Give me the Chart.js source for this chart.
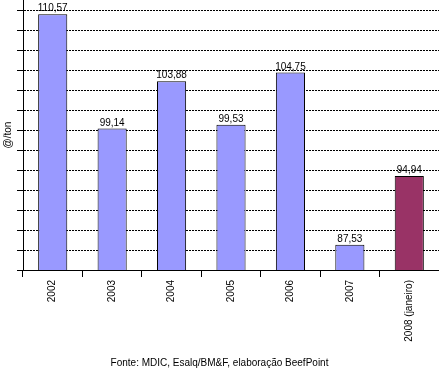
<!DOCTYPE html>
<html>
<head>
<meta charset="utf-8">
<script src="https://cdn.jsdelivr.net/npm/chart.js@4"></script>
<style>
  html, body { margin: 0; padding: 0; background: #fff; }
  #wrap { position: relative; width: 439px; height: 369px; }
</style>
</head>
<body>
<div id="wrap"><canvas id="c"></canvas></div>
<script>
  // Preço médio da exportação (@/ton)
  const categories = ['2002', '2003', '2004', '2005', '2006', '2007', '2008 (janeiro)'];
  // bar heights as drawn in the picture
  const values = [110.57, 99.14, 103.88, 99.53, 104.75, 87.53, 94.4];
  // value labels as printed above the bars
  const valueTexts = ['110,57', '99,14', '103,88', '99,53', '104,75', '87,53', '94,94'];
  const barColors = ['#9999ff', '#9999ff', '#9999ff', '#9999ff', '#9999ff', '#9999ff', '#993366'];
  const gridValues = [85, 87, 89, 91, 93, 95, 97, 99, 101, 103, 105, 107, 109, 111];

  const FONT = '"Liberation Sans", Arial, sans-serif';
  Chart.defaults.font.family = FONT;
  Chart.defaults.font.size = 10;
  Chart.defaults.color = '#000';

  const valueLabels = {
    id: 'valueLabels',
    afterDatasetsDraw(chart) {
      const ctx = chart.ctx;
      const meta = chart.getDatasetMeta(0);
      ctx.save();
      ctx.font = '10px ' + FONT;
      ctx.fillStyle = '#000';
      ctx.textAlign = 'center';
      ctx.textBaseline = 'alphabetic';
      meta.data.forEach((bar, i) => {
        ctx.fillText(valueTexts[i], bar.x, bar.y - 3);
      });
      ctx.restore();
    }
  };

  new Chart(document.getElementById('c'), {
    type: 'bar',
    data: {
      labels: categories,
      datasets: [{
        data: values,
        backgroundColor: barColors,
        borderColor: '#000',
        borderWidth: 1,
        borderSkipped: false,
        barPercentage: 0.49,
        categoryPercentage: 1
      }]
    },
    options: {
      responsive: true,
      maintainAspectRatio: false,
      animation: false,
      layout: { padding: 0 },
      plugins: {
        legend: { display: false },
        tooltip: { enabled: false },
        title: {
          display: true,
          position: 'bottom',
          text: 'Fonte: MDIC, Esalq/BM&F, elaboração BeefPoint',
          font: { size: 10, weight: 'normal' },
          color: '#000',
          padding: { top: 0, bottom: 0 }
        }
      },
      scales: {
        x: {
          grid: { drawOnChartArea: false, color: '#000', tickLength: 7, offset: true },
          border: { color: '#000', width: 1 },
          ticks: { minRotation: 90, maxRotation: 90, padding: 3, color: '#000', font: { size: 10 } },
          afterFit: s => { s.height = 87; }
        },
        y: {
          min: 85,
          max: 112,
          afterBuildTicks: s => { s.ticks = gridValues.map(v => ({ value: v })); },
          grid: { color: '#000', tickLength: 6, tickBorderDash: [] },
          border: { color: '#000', width: 1, dash: [2, 1] },
          ticks: { display: false },
          title: { display: true, text: '@/ton', color: '#000', font: { size: 10 }, padding: { top: 2, bottom: 0 } },
          afterFit: s => { s.width = 23; }
        }
      }
    },
    plugins: [valueLabels]
  });
</script>
</body>
</html>
